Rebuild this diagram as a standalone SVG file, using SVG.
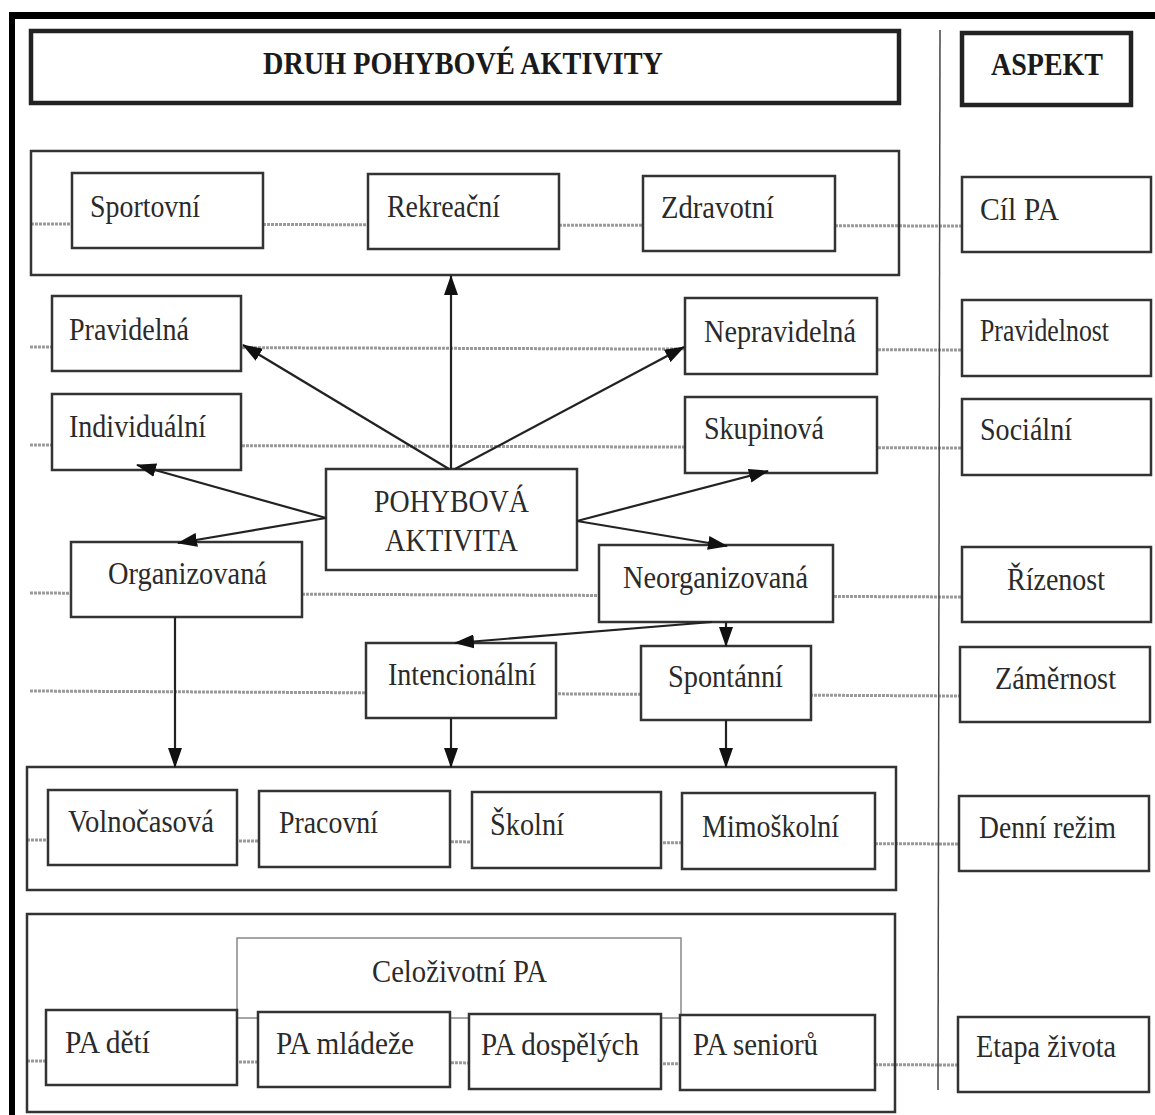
<svg xmlns="http://www.w3.org/2000/svg" width="1155" height="1115" viewBox="0 0 1155 1115">
<style>
  .frame { fill: #000; }
  .hdr { fill: #fff; stroke: #222; stroke-width: 4.5; }
  .box { fill: #fff; stroke: #333; stroke-width: 2.5; }
  .cont { fill: none; stroke: #333; stroke-width: 2.5; }
  .thin { fill: none; stroke: #888; stroke-width: 1.5; }
  .dot { stroke: #9a9a9a; stroke-width: 3; stroke-dasharray: 3 1; fill: none; }
  .sep { stroke: #444; stroke-width: 1.5; }
  .arr { stroke: #222; stroke-width: 2.2; fill: none; marker-end: url(#ah); }
  text { font-family: "Liberation Serif", "Times New Roman", serif; fill: #2a2a2a; font-size: 31px; }
  .b { font-weight: bold; font-size: 31px; fill: #1a1a1a; }
</style>
<defs>
  <marker id="ah" markerUnits="userSpaceOnUse" markerWidth="20" markerHeight="14" refX="19" refY="7" orient="auto">
    <path d="M0,0 L20,7 L0,14 Z" fill="#111"/>
  </marker>
</defs>

<rect width="1155" height="1115" fill="#fff"/>
<g id="frame">
  <rect class="frame" x="9" y="12" width="1146" height="7"/>
  <rect class="frame" x="9" y="12" width="6" height="1103"/>
</g>

<g id="dotted-lines">
  <line class="dot" x1="31" y1="224" x2="962" y2="226"/>
  <line class="dot" x1="30" y1="347" x2="962" y2="350"/>
  <line class="dot" x1="30" y1="445" x2="962" y2="448"/>
  <line class="dot" x1="30" y1="593" x2="962" y2="597"/>
  <line class="dot" x1="30" y1="691" x2="960" y2="696"/>
  <line class="dot" x1="27" y1="840" x2="959" y2="844"/>
  <line class="dot" x1="27" y1="1061" x2="958" y2="1065"/>
</g>

<line id="separator" class="sep" x1="940" y1="30" x2="938" y2="1090"/>

<g id="header">
  <rect class="hdr" x="31" y="31" width="868" height="72"/>
  <text class="b" x="263" y="74" textLength="400" lengthAdjust="spacingAndGlyphs">DRUH POHYBOVÉ AKTIVITY</text>
</g>
<g id="aspekt">
  <rect class="hdr" x="962" y="33" width="169" height="72"/>
  <text class="b" x="991" y="75" textLength="112" lengthAdjust="spacingAndGlyphs">ASPEKT</text>
</g>

<g id="containers">
  <rect class="cont" x="31" y="151" width="868" height="124"/>
  <rect class="cont" x="27" y="767" width="869" height="123"/>
  <rect class="cont" x="27" y="914" width="868" height="198"/>
</g>

<g id="celozivotni">
  <rect class="thin" x="237" y="938" width="444" height="80"/>
  <text x="372" y="982" textLength="175" lengthAdjust="spacingAndGlyphs">Celoživotní PA</text>
</g>

<g id="sportovni"><rect class="box" x="72" y="173" width="191" height="75"/><text x="90" y="217" textLength="110" lengthAdjust="spacingAndGlyphs">Sportovní</text></g>
<g id="rekreacni"><rect class="box" x="368" y="174" width="191" height="75"/><text x="387" y="217" textLength="113" lengthAdjust="spacingAndGlyphs">Rekreační</text></g>
<g id="zdravotni"><rect class="box" x="643" y="176" width="192" height="75"/><text x="661" y="218" textLength="113" lengthAdjust="spacingAndGlyphs">Zdravotní</text></g>
<g id="cil-pa"><rect class="box" x="962" y="177" width="189" height="75"/><text x="980" y="220" textLength="79" lengthAdjust="spacingAndGlyphs">Cíl PA</text></g>

<g id="pravidelna"><rect class="box" x="52" y="296" width="189" height="75"/><text x="69" y="340" textLength="120" lengthAdjust="spacingAndGlyphs">Pravidelná</text></g>
<g id="nepravidelna"><rect class="box" x="685" y="298" width="192" height="76"/><text x="704" y="342" textLength="152" lengthAdjust="spacingAndGlyphs">Nepravidelná</text></g>
<g id="pravidelnost"><rect class="box" x="962" y="300" width="189" height="76"/><text x="980" y="341" textLength="129" lengthAdjust="spacingAndGlyphs">Pravidelnost</text></g>

<g id="individualni"><rect class="box" x="52" y="394" width="189" height="76"/><text x="69" y="437" textLength="137" lengthAdjust="spacingAndGlyphs">Individuální</text></g>
<g id="skupinova"><rect class="box" x="685" y="397" width="192" height="76"/><text x="704" y="439" textLength="120" lengthAdjust="spacingAndGlyphs">Skupinová</text></g>
<g id="socialni"><rect class="box" x="962" y="399" width="189" height="76"/><text x="980" y="440" textLength="92" lengthAdjust="spacingAndGlyphs">Sociální</text></g>

<g id="pohybova-aktivita"><rect class="box" x="326" y="469" width="251" height="101"/>
  <text x="374" y="512" textLength="155" lengthAdjust="spacingAndGlyphs">POHYBOVÁ</text>
  <text x="385" y="551" textLength="133" lengthAdjust="spacingAndGlyphs">AKTIVITA</text></g>

<g id="organizovana"><rect class="box" x="71" y="542" width="231" height="75"/><text x="108" y="584" textLength="159" lengthAdjust="spacingAndGlyphs">Organizovaná</text></g>
<g id="neorganizovana"><rect class="box" x="599" y="545" width="234" height="77"/><text x="623" y="588" textLength="185" lengthAdjust="spacingAndGlyphs">Neorganizovaná</text></g>
<g id="rizenost"><rect class="box" x="962" y="547" width="189" height="75"/><text x="1007" y="590" textLength="98" lengthAdjust="spacingAndGlyphs">Řízenost</text></g>

<g id="intencionalni"><rect class="box" x="366" y="643" width="190" height="75"/><text x="388" y="685" textLength="148" lengthAdjust="spacingAndGlyphs">Intencionální</text></g>
<g id="spontanni"><rect class="box" x="641" y="646" width="170" height="74"/><text x="668" y="687" textLength="115" lengthAdjust="spacingAndGlyphs">Spontánní</text></g>
<g id="zamernost"><rect class="box" x="960" y="647" width="190" height="75"/><text x="995" y="689" textLength="121" lengthAdjust="spacingAndGlyphs">Záměrnost</text></g>

<g id="volnocasova"><rect class="box" x="48" y="790" width="189" height="75"/><text x="68" y="832" textLength="146" lengthAdjust="spacingAndGlyphs">Volnočasová</text></g>
<g id="pracovni"><rect class="box" x="259" y="791" width="191" height="76"/><text x="279" y="833" textLength="99" lengthAdjust="spacingAndGlyphs">Pracovní</text></g>
<g id="skolni"><rect class="box" x="472" y="792" width="189" height="76"/><text x="490" y="835" textLength="74" lengthAdjust="spacingAndGlyphs">Školní</text></g>
<g id="mimoskolni"><rect class="box" x="682" y="793" width="193" height="76"/><text x="702" y="837" textLength="137" lengthAdjust="spacingAndGlyphs">Mimoškolní</text></g>
<g id="denni-rezim"><rect class="box" x="959" y="796" width="190" height="75"/><text x="979" y="838" textLength="137" lengthAdjust="spacingAndGlyphs">Denní režim</text></g>

<g id="pa-deti"><rect class="box" x="46" y="1010" width="191" height="75"/><text x="65" y="1053" textLength="85" lengthAdjust="spacingAndGlyphs">PA dětí</text></g>
<g id="pa-mladeze"><rect class="box" x="258" y="1012" width="192" height="75"/><text x="276" y="1054" textLength="138" lengthAdjust="spacingAndGlyphs">PA mládeže</text></g>
<g id="pa-dospelych"><rect class="box" x="469" y="1014" width="192" height="75"/><text x="481" y="1055" textLength="158" lengthAdjust="spacingAndGlyphs">PA dospělých</text></g>
<g id="pa-senioru"><rect class="box" x="680" y="1015" width="195" height="75"/><text x="693" y="1055" textLength="125" lengthAdjust="spacingAndGlyphs">PA seniorů</text></g>
<g id="etapa-zivota"><rect class="box" x="958" y="1017" width="191" height="75"/><text x="976" y="1057" textLength="140" lengthAdjust="spacingAndGlyphs">Etapa života</text></g>

<g id="connectors">
  <line class="arr" x1="451" y1="469" x2="451" y2="276"/>
  <line class="arr" x1="449" y1="469" x2="243" y2="345"/>
  <line class="arr" x1="455" y1="469" x2="684" y2="347"/>
  <line class="arr" x1="326" y1="518" x2="137" y2="465"/>
  <line class="arr" x1="326" y1="518" x2="178" y2="543"/>
  <line class="arr" x1="577" y1="521" x2="768" y2="471"/>
  <line class="arr" x1="577" y1="521" x2="727" y2="546"/>
  <line class="arr" x1="712" y1="622" x2="455" y2="643"/>
  <line class="arr" x1="726" y1="622" x2="726" y2="646"/>
  <line class="arr" x1="175" y1="617" x2="175" y2="767"/>
  <line class="arr" x1="451" y1="718" x2="451" y2="767"/>
  <line class="arr" x1="726" y1="720" x2="726" y2="767"/>
</g>
</svg>
